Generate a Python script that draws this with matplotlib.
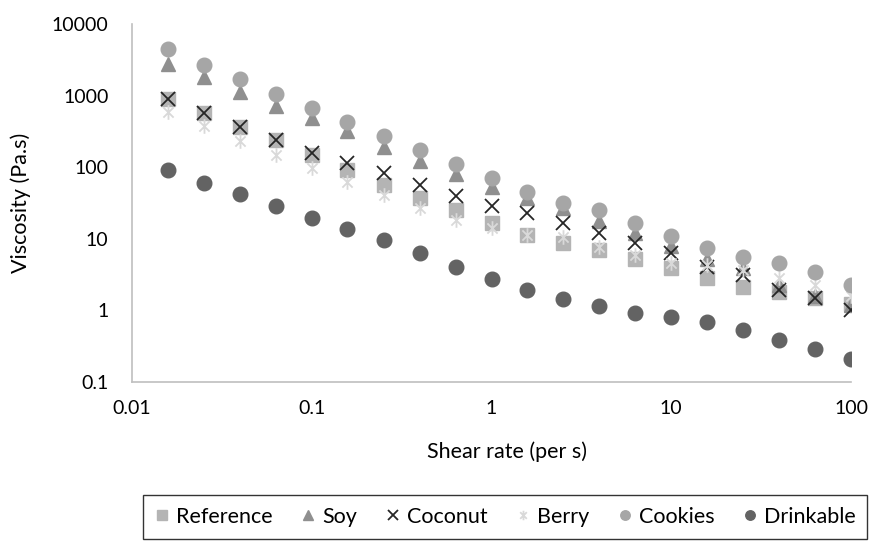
import matplotlib
matplotlib.use("Agg")
import matplotlib.pyplot as plt
from matplotlib.path import Path
import numpy as np

shear_rate = [0.0158, 0.0251, 0.0398, 0.0631, 0.1, 0.158, 0.251, 0.398, 0.631, 1.0,
              1.58, 2.51, 3.98, 6.31, 10.0, 15.8, 25.1, 39.8, 63.1, 100.0]

reference = [900, 570, 360, 240, 148, 92, 56, 37, 25, 16.6,
             11.3, 8.7, 7.0, 5.2, 3.9, 2.8, 2.1, 1.8, 1.5, 1.24]
soy = [2770, 1820, 1120, 716, 487, 320, 191, 122, 80, 53,
       37, 26.5, 18, 12, 7.9, 5.3, 3.9, 2.3, 1.6, 1.2]
coconut = [897, 571, 364, 240, 158, 114, 83, 56, 39, 28.6,
           23, 16.6, 12.1, 8.7, 6.3, 4.0, 3.1, 1.9, 1.5, 1.0]
berry = [590, 376, 232, 148, 97, 62, 41, 27, 18.3, 14,
         11.3, 10.5, 7.7, 5.9, 4.6, 4.3, 3.7, 2.8, 2.3, 1.6]
cookies = [4450, 2675, 1706, 1052, 671, 428, 273, 174, 111, 70.6,
           45, 31.5, 25.2, 16.6, 10.9, 7.4, 5.6, 4.6, 3.4, 2.3]
drinkable = [92, 60, 42, 28.7, 19.5, 13.9, 9.6, 6.3, 4.1, 2.75,
             1.93, 1.44, 1.15, 0.93, 0.82, 0.69, 0.53, 0.39, 0.29, 0.21]

x_ticks = [0.01, 0.1, 1, 10, 100]
x_tick_labels = ["0.01", "0.1", "1", "10", "100"]
y_ticks = [0.1, 1, 10, 100, 1000, 10000]
y_tick_labels = ["0.1", "1", "10", "100", "1000", "10000"]

plt.rcParams['font.family'] = ['Lato', 'DejaVu Sans']

# Excel-like star marker: X plus vertical line
star = Path([(-0.7, -0.7), (0.7, 0.7), (-0.7, 0.7), (0.7, -0.7), (0, -1), (0, 1)],
            [Path.MOVETO, Path.LINETO, Path.MOVETO, Path.LINETO, Path.MOVETO, Path.LINETO])

fig = plt.figure(figsize=(8.76, 5.45), dpi=100)
ax = fig.add_axes([132/876, 1-382/545, (851-132)/876, (382-24)/545])

ms = 10.5
ax.plot(shear_rate, reference, linestyle='none', marker='s', ms=ms, color='#B4B4B4', label='Reference')
ax.plot(shear_rate, soy, linestyle='none', marker='^', ms=ms, color='#8F8F8F', label='Soy')
ax.plot(shear_rate, coconut, linestyle='none', marker='x', ms=ms, mew=1.3, color='#262626', label='Coconut')
ax.plot(shear_rate, berry, linestyle='none', marker=star, ms=ms, mew=1.3, color='#D9D9D9', label='Berry')
ax.plot(shear_rate, cookies, linestyle='none', marker='o', ms=ms, color='#A6A6A6', label='Cookies')
ax.plot(shear_rate, drinkable, linestyle='none', marker='o', ms=ms, color='#636363', label='Drinkable')

ax.set_xscale('log')
ax.set_yscale('log')
ax.set_xlim(0.01, 100)
ax.set_ylim(0.1, 10000)
ax.set_xticks(x_ticks)
ax.set_xticklabels(x_tick_labels)
ax.set_yticks(y_ticks)
ax.set_yticklabels(y_tick_labels)
ax.minorticks_off()
ax.tick_params(axis='both', length=0, labelsize=14, colors='#000000')
ax.tick_params(axis='x', pad=13)
ax.tick_params(axis='y', pad=17)
for s in ['top', 'right']:
    ax.spines[s].set_visible(False)
for s in ['left', 'bottom']:
    ax.spines[s].set_color('#BFBFBF')
    ax.spines[s].set_linewidth(1.2)

fig.text(507/876, 1-452/545, 'Shear rate (per s)', ha='center', va='center', fontsize=15.5)
fig.text(21/876, 1-203/545, 'Viscosity (Pa.s)', ha='center', va='center', rotation=90, fontsize=15.5)

leg = fig.legend(loc='center', bbox_to_anchor=(505/876, 1-517/545), ncol=6, fontsize=15.5,
                 frameon=True, fancybox=False, markerscale=0.65, handlelength=0.7,
                 handletextpad=0.3, columnspacing=1.3, borderpad=0.55)
leg.get_frame().set_edgecolor('#000000')
leg.get_frame().set_linewidth(1.0)

fig.savefig('out.png', dpi=100)
